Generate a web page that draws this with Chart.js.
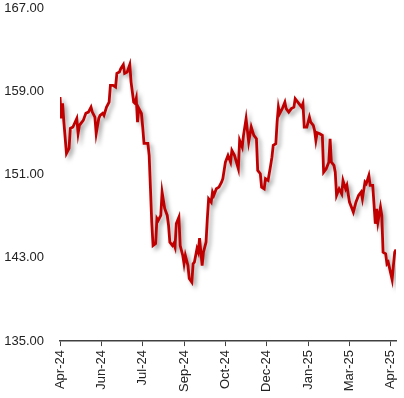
<!DOCTYPE html>
<html lang="en">
<head>
	<meta charset="UTF-8">
	<title>Price</title>
	<script src="https://cdn.jsdelivr.net/npm/chart.js@4.4.0/dist/chart.umd.min.js"></script>
	<style>
		body { margin: 0; background: #fff; }
		#wrap { width: 404px; height: 398px; }
	</style>
</head>
<body>
	<div id="wrap"><canvas id="myChart" width="404" height="398"></canvas></div>

	<script>
	// trading-day index from the first day, and closing price
	let days = [0, 1, 2, 3, 5, 7, 8, 10, 13, 14, 15, 18, 20, 22, 24, 25, 27, 28, 30, 31,
		33, 34, 36, 38, 39, 41, 43, 44, 46, 47, 49, 50, 52, 54, 55, 57, 58, 59, 60, 61,
		63, 64, 65, 68, 69, 70, 71, 72, 74, 75, 76, 78, 79, 81, 83, 84, 85, 87, 88, 89,
		90, 92, 93, 95, 96, 97, 99, 100, 102, 103, 104, 106, 107, 108, 110, 111, 113, 114, 115, 117,
		118, 119, 121, 123, 125, 126, 128, 130, 132, 133, 135, 138, 139, 141, 142, 144, 146, 148, 150, 152,
		153, 155, 156, 158, 159, 161, 163, 164, 165, 167, 168, 169, 170, 172, 174, 175, 177, 179, 181, 182,
		184, 187, 188, 189, 191, 193, 194, 196, 197, 198, 199, 201, 203, 204, 206, 208, 209, 210, 212, 213,
		214, 216, 218, 219, 221, 222, 224, 226, 227, 229, 231, 233, 234, 236, 237, 239, 240, 242, 244, 245,
		246, 248, 249, 250, 252, 253, 254, 256, 257, 258, 259, 260]
	let prices = [158.44, 156.39, 157.84, 156.04, 153.03, 153.51, 155.43, 155.56, 156.39, 154.95, 155.72, 156.20, 156.88, 157.00, 157.48, 157.00, 156.52, 154.95, 156.39, 156.68,
		156.88, 156.68, 157.48, 157.96, 159.57, 159.57, 159.40, 160.72, 160.85, 161.17, 161.56, 160.72, 160.85, 161.56, 159.88, 157.96, 157.84, 158.32, 156.04, 157.36,
		156.88, 155.56, 153.99, 153.99, 152.84, 149.66, 146.42, 144.18, 144.38, 146.78, 146.59, 147.07, 149.31, 147.74, 147.07, 146.11, 144.50, 144.18, 144.38, 144.02,
		146.30, 146.90, 144.18, 143.22, 142.42, 143.22, 142.26, 141.01, 140.65, 142.42, 142.58, 143.87, 143.54, 144.88, 142.26, 143.54, 144.50, 146.75, 148.67, 148.35,
		149.31, 148.99, 149.63, 149.79, 150.27, 150.60, 152.19, 152.84, 152.19, 153.32, 152.84, 151.56, 154.28, 153.63, 154.76, 156.37, 154.12, 155.56, 154.76, 154.44,
		151.39, 151.08, 149.79, 149.63, 150.60, 150.43, 151.88, 152.67, 153.80, 153.96, 156.04, 157.48, 156.85, 157.33, 157.96, 157.33, 157.00, 157.33, 157.48, 158.29,
		157.96, 157.48, 157.81, 155.56, 155.56, 156.52, 156.04, 155.72, 155.24, 154.28, 155.02, 154.92, 154.76, 151.23, 151.56, 152.19, 154.44, 152.19, 151.88, 151.23,
		148.99, 149.63, 149.15, 150.43, 149.63, 149.95, 148.35, 147.71, 147.38, 148.35, 148.99, 149.31, 148.67, 150.27, 150.12, 150.91, 149.95, 149.95, 146.27, 147.71,
		146.42, 147.87, 147.07, 143.54, 143.38, 142.42, 142.58, 141.46, 140.91, 142.26, 143.54, 143.80]

	let tickDays = [0, 32, 64, 96, 128, 160, 192, 224, 256]
	let tickLabels = ['Apr-24', 'Jun-24', 'Jul-24', 'Sep-24', 'Oct-24', 'Dec-24', 'Jan-25', 'Mar-25', 'Apr-25']

	let points = days.map((d, i) => ({ x: d, y: prices[i] }))

	// soft grey drop shadow under the line
	let shadow = {
		id: 'shadow',
		beforeDatasetsDraw(chart) {
			let c = chart.ctx
			c.save()
			c.shadowColor = 'rgba(0, 0, 0, 0.35)'
			c.shadowBlur = 4
			c.shadowOffsetX = 3
			c.shadowOffsetY = 3
		},
		afterDatasetsDraw(chart) {
			chart.ctx.restore()
		}
	}

	let font = { family: 'Liberation Sans', size: 13 }

	var ctx = document.getElementById('myChart').getContext('2d');
	var chart = new Chart(ctx, {
		type: 'line',
		data: {
			datasets: [{
				data: points,
				borderColor: '#c00000',
				borderWidth: 2.8,
				pointRadius: 0,
				tension: 0,
				fill: false
			}]
		},
		options: {
			responsive: false,
			animation: false,
			layout: { padding: { left: 2, right: 8, top: 8, bottom: 2 } },
			plugins: { legend: { display: false }, tooltip: { enabled: false } },
			scales: {
				x: {
					type: 'linear',
					min: 0,
					max: 260,
					afterBuildTicks: (axis) => { axis.ticks = tickDays.map(v => ({ value: v })) },
					afterFit: (axis) => { axis.paddingLeft = 0; axis.paddingRight = 0 },
					grid: { drawOnChartArea: false, drawTicks: true, tickLength: 5, color: '#404040' },
					border: { display: true, color: '#404040', width: 1.5 },
					ticks: {
						minRotation: 90,
						maxRotation: 90,
						autoSkip: false,
						padding: 4,
						color: '#222',
						font: font,
						callback: (v) => tickLabels[tickDays.indexOf(v)]
					}
				},
				y: {
					min: 135,
					max: 167,
					afterFit: (axis) => { axis.width = 58; axis.paddingTop = 0; axis.paddingBottom = 0 },
					grid: { display: false, drawTicks: false },
					border: { display: false },
					ticks: {
						stepSize: 8,
						padding: 16,
						color: '#222',
						font: font,
						callback: (v) => v.toFixed(2)
					}
				}
			}
		},
		plugins: [shadow]
	});
	</script>
</body>
</html>
